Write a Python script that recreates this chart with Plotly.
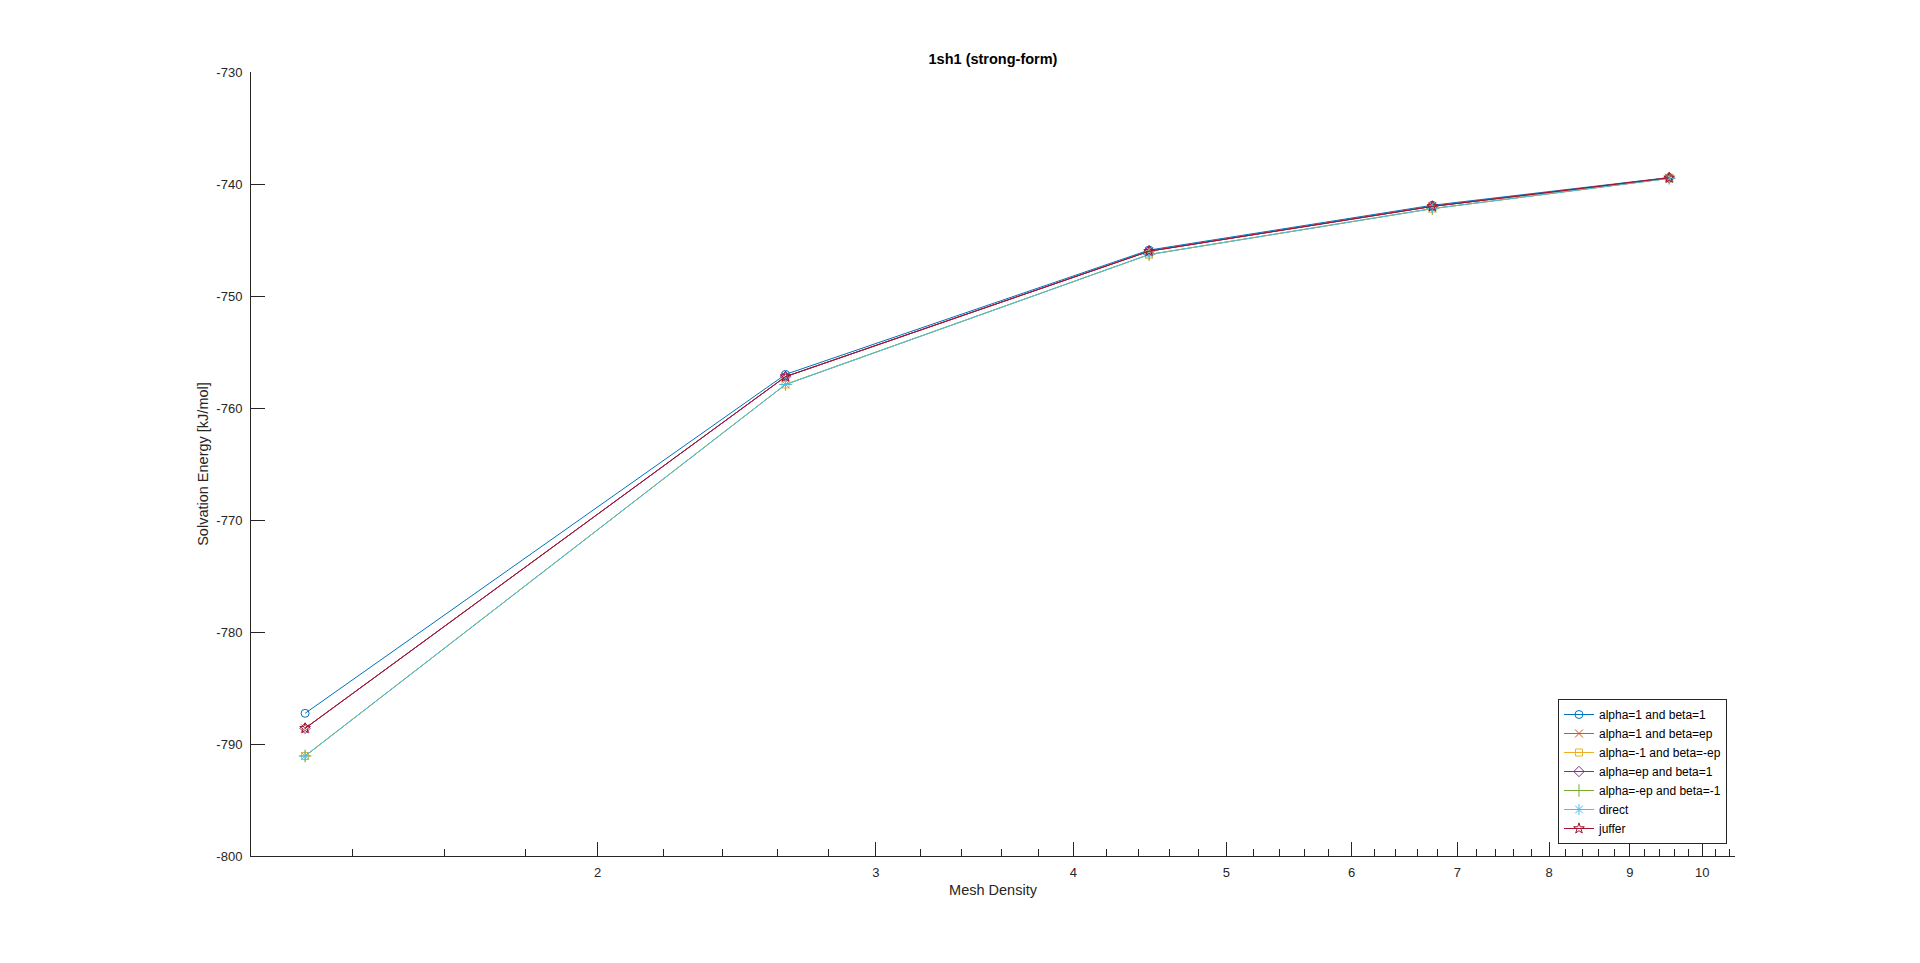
import numpy as np
import plotly.graph_objects as go

mesh_density = [1.306, 2.630, 4.467, 6.749, 9.531]

series_names = [
    "alpha=1 and beta=1",
    "alpha=1 and beta=ep",
    "alpha=-1 and beta=-ep",
    "alpha=ep and beta=1",
    "alpha=-ep and beta=-1",
    "direct",
    "juffer",
]
alpha1_beta1 = [-787.26, -757.0, -745.9, -741.9, -739.42]
alpha1_betaep = [-788.6, -757.2, -746.0, -742.0, -739.45]
alpham1_betamep = [-791.07, -757.9, -746.3, -742.2, -739.5]
alphaep_beta1 = [-788.6, -757.2, -746.0, -742.0, -739.45]
alphamep_betam1 = [-791.07, -757.9, -746.3, -742.2, -739.5]
direct = [-791.07, -757.9, -746.3, -742.2, -739.5]
juffer = [-788.6, -757.2, -746.0, -742.0, -739.45]

series_values = [alpha1_beta1, alpha1_betaep, alpham1_betamep, alphaep_beta1,
                 alphamep_betam1, direct, juffer]

colors = ["#0072BD", "#D95319", "#EDB120", "#7E2F8E", "#77AC30", "#4DBEEE", "#A2142F"]
symbols = ["circle-open", "x-thin-open", "square-open", "diamond-open",
           "cross-thin-open", "asterisk-open", "star-open"]
sizes = [8, 8, 7, 8, 9, 9, 8]

x_tickvals = [2, 3, 4, 5, 6, 7, 8, 9, 10]
x_ticktext = ["2", "3", "4", "5", "6", "7", "8", "9", "10"]
x_minor = [1.4, 1.6, 1.8, 2.2, 2.4, 2.6, 2.8, 3.2, 3.4, 3.6, 3.8,
           4.2, 4.4, 4.6, 4.8, 5.2, 5.4, 5.6, 5.8, 6.2, 6.4, 6.6, 6.8,
           7.2, 7.4, 7.6, 7.8, 8.2, 8.4, 8.6, 8.8, 9.2, 9.4, 9.6, 9.8,
           10.2, 10.4]
y_tickvals = [-800, -790, -780, -770, -760, -750, -740, -730]
y_ticktext = ["-800", "-790", "-780", "-770", "-760", "-750", "-740", "-730"]

fig = go.Figure()
for name, vals, c, s, sz in zip(series_names, series_values, colors, symbols, sizes):
    fig.add_trace(go.Scatter(
        x=mesh_density, y=vals, name=name, mode="lines+markers",
        line=dict(color=c, width=1),
        marker=dict(symbol=s, size=sz, color=c, line=dict(color=c, width=1)),
    ))

axis_color = "#262626"
font_family = "Liberation Sans, Arial, sans-serif"

W, H = 1904, 947
fig.update_layout(
    width=W, height=H,
    paper_bgcolor="white", plot_bgcolor="white",
    margin=dict(l=243, r=W - 1727, t=64, b=H - 848, autoexpand=False),
    font=dict(family=font_family, size=12, color=axis_color),
    title=dict(text="<b>1sh1 (strong-form)</b>", x=(985) / W, xanchor="center",
               y=1 - 51 / H, yanchor="middle",
               font=dict(size=14.5, color="#000000", family=font_family)),
    showlegend=True,
    legend=dict(x=0.9946, xanchor="right", y=0.0153, yanchor="bottom",
                bgcolor="white", bordercolor="#262626", borderwidth=1,
                font=dict(size=12, color="#000000", family=font_family),
                tracegroupgap=0, itemwidth=30),
    xaxis=dict(
        type="log",
        range=[np.log10(1.207), np.log10(10.49)],
        tickmode="array", tickvals=x_tickvals, ticktext=x_ticktext,
        ticks="inside", ticklen=14, tickwidth=1, tickcolor=axis_color,
        minor=dict(tickmode="array", tickvals=x_minor, ticks="inside",
                   ticklen=7, tickwidth=1, tickcolor=axis_color, showgrid=False),
        showline=True, linecolor=axis_color, linewidth=1, mirror=False,
        showgrid=False, zeroline=False,
        ticklabelstandoff=4,
        tickfont=dict(size=13, color=axis_color),
        title=dict(text="Mesh Density", font=dict(size=14.5, color=axis_color), standoff=6),
    ),
    yaxis=dict(
        range=[-800, -730],
        tickmode="array", tickvals=y_tickvals, ticktext=y_ticktext,
        ticks="inside", ticklen=14, tickwidth=1, tickcolor=axis_color,
        showline=True, linecolor=axis_color, linewidth=1, mirror=False,
        showgrid=False, zeroline=False,
        ticklabelstandoff=5,
        tickfont=dict(size=13, color=axis_color),
        title=dict(text="Solvation Energy [kJ/mol]", font=dict(size=14.5, color=axis_color), standoff=4),
    ),
)

fig.write_html("out.html")
